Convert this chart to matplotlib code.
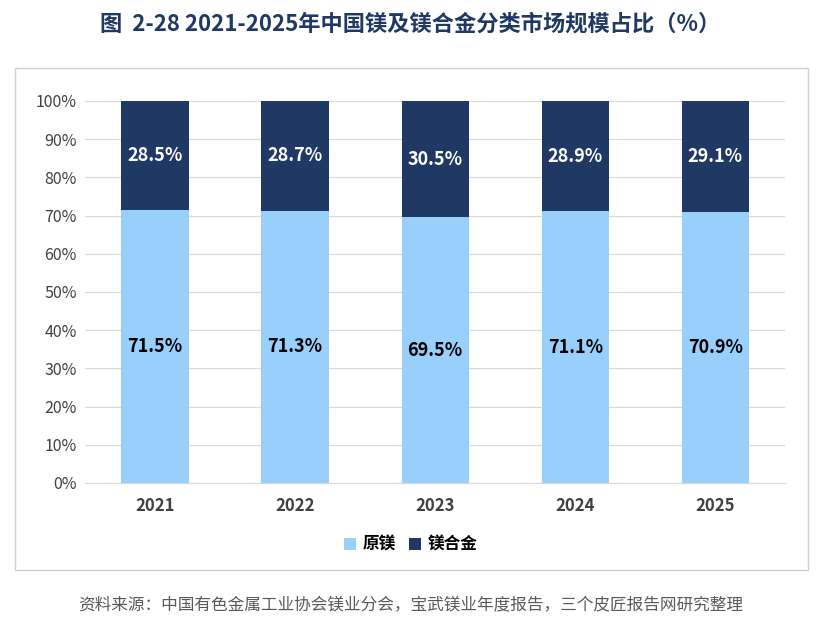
import matplotlib.pyplot as plt
from matplotlib.patches import Rectangle

plt.rcParams['font.family'] = ['Noto Sans CJK SC', 'DejaVu Sans']

years = ['2021', '2022', '2023', '2024', '2025']
raw_mg = [71.5, 71.3, 69.5, 71.1, 70.9]
mg_alloy = [28.5, 28.7, 30.5, 28.9, 29.1]

c_raw = '#99CFFB'
c_alloy = '#1F3864'

fig = plt.figure(figsize=(8.21, 6.35), dpi=100)
fig.patches.append(Rectangle((0.018, 0.1024), 0.966, 0.79, transform=fig.transFigure,
                             fill=False, edgecolor='#D0D0D0', linewidth=1))
fig.text(0.5, 0.962, '图  2-28 2021-2025年中国镁及镁合金分类市场规模占比（%）',
         ha='center', va='center', fontsize=16, fontweight='bold', color='#1F3864')

ax = fig.add_axes([0.1035, 0.2394, 0.853, 0.6016])
x = range(len(years))
ax.bar(x, raw_mg, width=0.48, color=c_raw, label='原镁')
ax.bar(x, mg_alloy, width=0.48, bottom=raw_mg, color=c_alloy, label='镁合金')
for i in x:
    ax.text(i, raw_mg[i] / 2, f'{raw_mg[i]}%', ha='center', va='center',
            fontsize=13, fontweight='bold', color='black')
    ax.text(i, raw_mg[i] + mg_alloy[i] / 2, f'{mg_alloy[i]}%', ha='center', va='center',
            fontsize=13, fontweight='bold', color='white')

ax.set_ylim(0, 100)
ax.set_xlim(-0.5, 4.5)
ax.set_yticks(range(0, 101, 10))
ax.set_yticklabels([f'{v}%' for v in range(0, 101, 10)], fontsize=11.5, color='#404040')
ax.set_xticks(list(x))
ax.set_xticklabels(years, fontsize=12, fontweight='bold', color='#404040')
ax.tick_params(axis='x', length=0, pad=10)
ax.tick_params(axis='y', length=0, pad=6)
ax.grid(axis='y', color='#D9D9D9', linewidth=0.8)
ax.set_axisbelow(True)
for s in ['top', 'right', 'left']:
    ax.spines[s].set_visible(False)
ax.spines['bottom'].set_color('#D9D9D9')

fig.legend(loc='center', bbox_to_anchor=(0.5, 0.142), ncol=2, frameon=False,
           handlelength=0.7, handleheight=0.7, columnspacing=0.8,
           handletextpad=0.4, prop={'weight': 'bold', 'size': 12})

fig.text(0.5, 0.046, '资料来源：中国有色金属工业协会镁业分会，宝武镁业年度报告，三个皮匠报告网研究整理',
         ha='center', va='center', fontsize=12, color='#595959')

fig.savefig('out.png', dpi=100)
